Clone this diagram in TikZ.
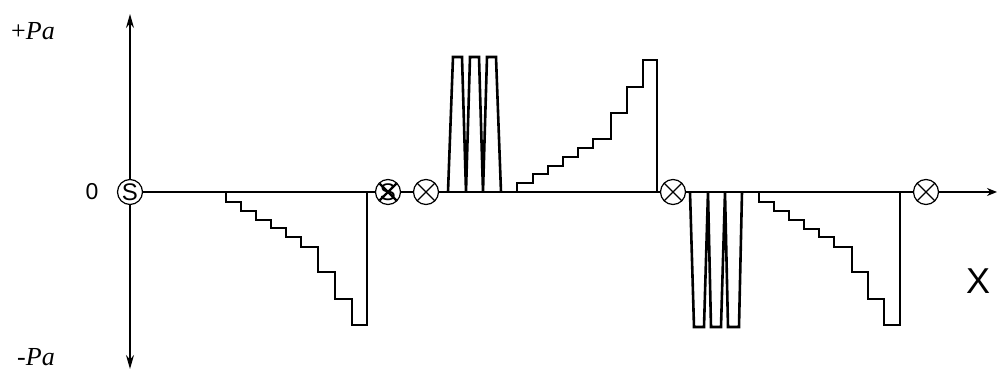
\documentclass[tikz,border=0pt]{standalone}
\usepackage{fontspec}
\setmainfont{Liberation Serif}
\setsansfont{Liberation Sans}
\usetikzlibrary{arrows.meta}

\begin{document}
\begin{tikzpicture}[x=1pt, y=-1pt,
        ax/.style={line width=1.3pt, -{Stealth[length=14pt, width=8pt]}},
        sig/.style={line width=2.6pt},
        ring/.style={circle, draw, fill=white, line width=1.2pt, minimum size=25pt, inner sep=0pt,
            font=\sffamily\fontsize{24}{24}\selectfont},
        cross/.style={ring, path picture={
            \draw[line width=1.2pt] (path picture bounding box.north west) -- (path picture bounding box.south east)
                (path picture bounding box.north east) -- (path picture bounding box.south west);}},
        crossS/.style={ring, path picture={
            \draw[line width=2.2pt] ([shift={(4pt,-4pt)}]path picture bounding box.north west) -- ([shift={(-4pt,4pt)}]path picture bounding box.south east)
                ([shift={(-4pt,-4pt)}]path picture bounding box.north east) -- ([shift={(4pt,4pt)}]path picture bounding box.south west);}},
        lbl/.style={font=\fontsize{26}{26}\selectfont}]
    \useasboundingbox (0,0) rectangle (997,371);
    % axes
    \node[ring] (s) at (130,192) {S};
    \coordinate (ytop) at (130,14);
    \coordinate (ybot) at (130,369);
    \coordinate (xend) at (997,192);
    \draw[ax] (s.north) -- (ytop);
    \draw[ax] (s.south) -- (ybot);
    \draw[ax, -{Stealth[length=10pt, width=8pt]}] (s.east) -- (xend);
    \node[font=\sffamily\fontsize{23}{23}\selectfont] (zero) at (92,192) {0};
    \node[lbl] (pplus) at (33,31) {+\textit{Pa}};
    \node[lbl] (pminus) at (36,357) {-\textit{Pa}};
    \node[font=\sffamily\fontsize{36}{36}\selectfont] (xlbl) at (978,281) {X};
    % signal
    \draw[sig] (226,192) |- (241,202) |- (256,211) |- (271,220) |- (286,228) |- (301,237)
        |- (318,247) |- (335,272) |- (352,299) |- (367,325) -- (367,192);
    \draw[sig] (448,192) -- (453,57) -- (462,57) -- (466,192) -- (470,57) -- (479,57)
        -- (483,192) -- (487,57) -- (496,57) -- (501,192);
    \draw[sig] (517,192) |- (533,183) |- (548,174) |- (563,166) |- (578,157) |- (593,148)
        |- (611,139) |- (627,113) |- (643,87) |- (657,60) -- (657,192);
    \draw[sig] (690,192) -- (694,327) -- (704,327) -- (708,192) -- (711,327) -- (721,327)
        -- (725,192) -- (728,327) -- (739,327) -- (742,192);
    \draw[sig] (759,192) |- (774,202) |- (789,211) |- (804,220) |- (819,229) |- (834,237)
        |- (852,247) |- (868,272) |- (884,299) |- (900,325) -- (900,192);
    % markers
    \node[crossS] (sx) at (388,192) {S};
    \node[cross] (c1) at (426,192) {};
    \node[cross] (c2) at (673,192) {};
    \node[cross] (c3) at (926,192) {};
\end{tikzpicture}
\end{document}
